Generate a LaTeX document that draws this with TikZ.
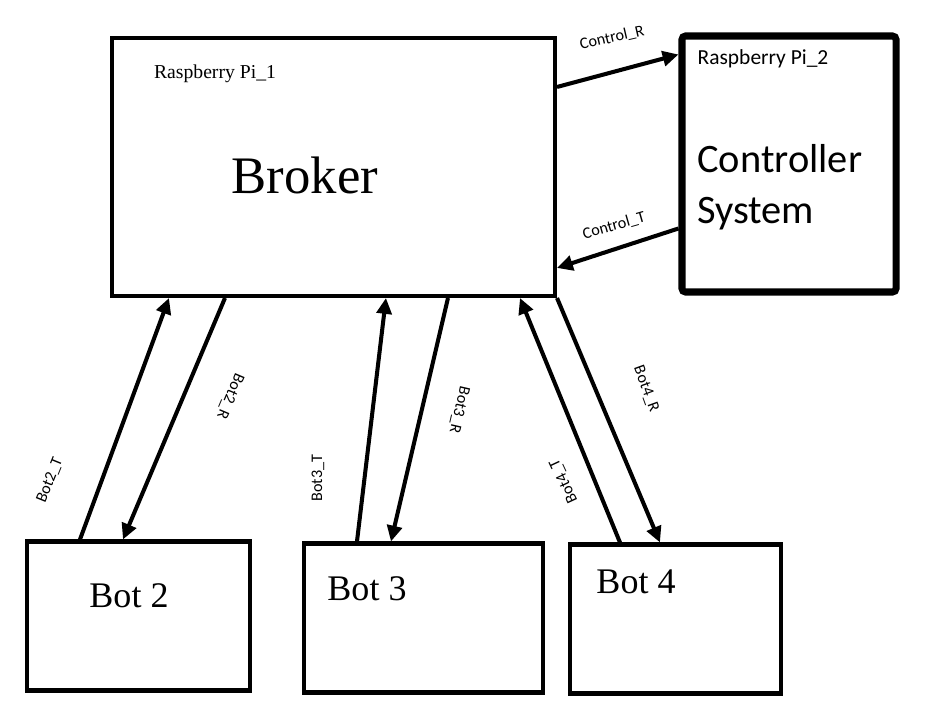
\documentclass[tikz,border=0pt]{standalone}
\usepackage{fontspec}
\setmainfont{Liberation Serif}
\newfontfamily\calfont{Carlito}
\usetikzlibrary{positioning}
\usetikzlibrary {arrows.meta}
\tikzset{hostbox/.style={rectangle,draw=black,fill=white,line width=2.3pt,
inner sep=2pt}}
\tikzset{ctrlbox/.style={rectangle,draw=black,fill=white,line width=4pt,
rounded corners=2pt,inner sep=2pt,minimum width=4.28cm, minimum height=5.12cm}}
\tikzset{botbox/.style={hostbox,minimum height=2.98cm}}
\tikzset{link/.style={line width=2.3pt,-{Triangle[length=9pt,width=8.5pt]}}}
\tikzset{linklabel/.style={font=\calfont\fontsize{9.2}{11}\selectfont,inner sep=1pt}}

\begin{document}
\begin{tikzpicture}
        \useasboundingbox (0,0) rectangle (18.74,-14.18);

        \node[hostbox,minimum width=8.86cm,minimum height=5.16cm] (broker) at (6.67,-3.34) {};
        \node[ctrlbox] (ctrl) at (15.78,-3.28) {};

        \node[botbox,minimum width=4.46cm] (bot2) at (2.77,-12.32) {};
        \node[botbox,minimum width=4.78cm] (bot3) at (8.47,-12.36) {};
        \node[botbox,minimum width=4.22cm] (bot4) at (13.51,-12.38) {};

        \node[font=\fontsize{11.2}{13}\selectfont] (pi1) at (4.30,-1.48) {Raspberry Pi\_1};
        \node[font=\fontsize{30}{36}\selectfont] (brokertxt) at (6.10,-3.50) {Broker};
        \node[font=\calfont\fontsize{12.2}{14}\selectfont] (pi2) at (15.26,-1.18) {Raspberry Pi\_2};
        \node[font=\calfont\fontsize{23}{29}\selectfont,align=left,anchor=west,inner sep=0pt] (ctrltxt) at (13.94,-3.74) {Controller\\System};

        \node[font=\fontsize{20.5}{24}\selectfont] (bot2txt) at (2.58,-11.92) {Bot 2};
        \node[font=\fontsize{20.5}{24}\selectfont] (bot3txt) at (7.34,-11.78) {Bot 3};
        \node[font=\fontsize{20.5}{24}\selectfont] (bot4txt) at (12.72,-11.64) {Bot 4};

        % broker <-> controller
        \draw[link] ([yshift=-1.02cm]broker.north east) -- ([yshift=-0.44cm]ctrl.north west);
        \draw[link] ([yshift=-3.92cm]ctrl.north west) -- ([yshift=-4.64cm]broker.north east);
        \node[linklabel,rotate=13] (ctrlR) at (12.24,-0.76) {Control\_R};
        \node[linklabel,rotate=16] (ctrlT) at (12.28,-4.52) {Control\_T};

        % broker <-> bots
        \draw[link] ([xshift=1.10cm]bot2.north west) -- ([xshift=1.18cm]broker.south west);
        \draw[link] ([xshift=2.30cm]broker.south west) -- ([xshift=1.96cm]bot2.north west);
        \draw[link] ([xshift=1.10cm]bot3.north west) -- ([xshift=5.52cm]broker.south west);
        \draw[link] ([xshift=6.76cm]broker.south west) -- ([xshift=1.78cm]bot3.north west);
        \draw[link] ([xshift=1.04cm]bot4.north west) -- ([xshift=8.20cm]broker.south west);
        \draw[link] (broker.south east) -- ([xshift=1.84cm]bot4.north west);

        \node[linklabel,rotate=68] (b2T) at (1.00,-9.60) {Bot2\_T};
        \node[linklabel,rotate=-113] (b2R) at (4.60,-7.92) {Bot2\_R};
        \node[linklabel,rotate=90] (b3T) at (6.36,-9.56) {Bot3\_T};
        \node[linklabel,rotate=-103] (b3R) at (9.18,-8.20) {Bot3\_R};
        \node[linklabel,rotate=115] (b4T) at (11.28,-9.62) {Bot4\_T};
        \node[linklabel,rotate=-70] (b4R) at (12.92,-7.78) {Bot4\_R};

    \end{tikzpicture}
\end{document}
